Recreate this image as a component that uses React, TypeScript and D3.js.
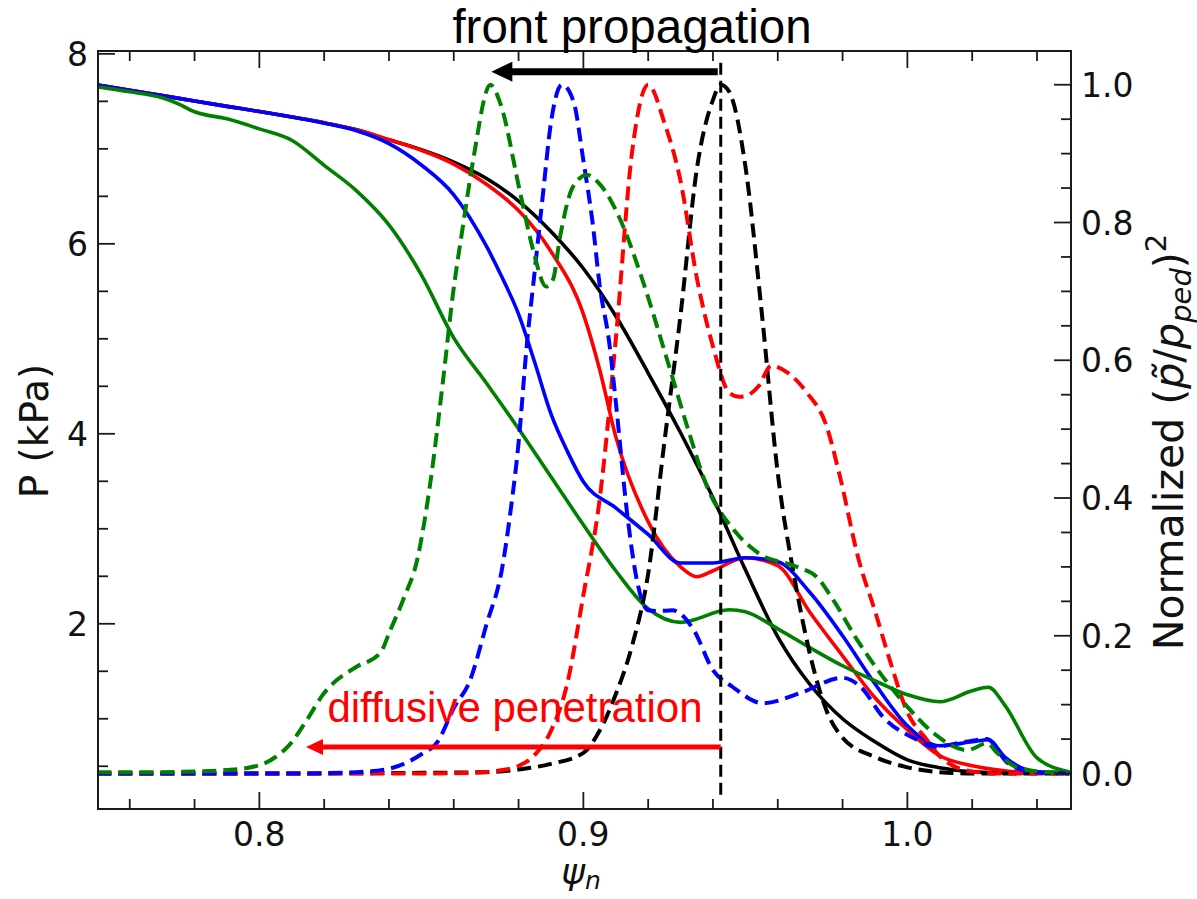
import React from "react";
import * as d3 from "d3";

const W = 1197;
const H = 899;
const PLOT = { left: 98, right: 1071, top: 51, bottom: 809 };

const X_DOMAIN = [0.7502, 1.0505];
const P_DOMAIN = [0.05, 8.03];
const N_DOMAIN = [-0.0515, 1.049];

const X_TICKS = [0.8, 0.9, 1.0];
const X_TICK_LABELS = ["0.8", "0.9", "1.0"];
const P_TICKS = [2, 4, 6, 8];
const P_TICK_LABELS = ["2", "4", "6", "8"];
const N_TICKS = [0, 0.2, 0.4, 0.6, 0.8, 1.0];
const N_TICK_LABELS = ["0.0", "0.2", "0.4", "0.6", "0.8", "1.0"];

// Solid curves: pressure P (kPa) vs psi_n (left axis)
const BLACK_PSI = [0.75, 0.76, 0.77, 0.78, 0.79, 0.8, 0.81, 0.82, 0.83, 0.84, 0.85, 0.86, 0.87, 0.88, 0.89, 0.9, 0.91, 0.92, 0.93, 0.94, 0.95, 0.96, 0.97, 0.98, 0.99, 1.0, 1.01, 1.02, 1.03, 1.04, 1.05];
const BLACK_P = [7.672, 7.617, 7.561, 7.503, 7.447, 7.393, 7.335, 7.274, 7.2, 7.095, 6.99, 6.86, 6.69, 6.45, 6.13, 5.74, 5.24, 4.64, 4.011, 3.326, 2.568, 1.863, 1.358, 1.0, 0.758, 0.568, 0.484, 0.442, 0.432, 0.432, 0.432];

const RED_PSI = [0.75, 0.76, 0.77, 0.78, 0.79, 0.8, 0.81, 0.82, 0.83, 0.84, 0.85, 0.86, 0.87, 0.88, 0.89, 0.9, 0.905, 0.91, 0.92, 0.93, 0.935, 0.94, 0.95, 0.96, 0.97, 0.98, 0.99, 1.0, 1.01, 1.02, 1.03, 1.04, 1.05];
const RED_P = [7.672, 7.617, 7.561, 7.503, 7.447, 7.393, 7.335, 7.274, 7.2, 7.095, 6.985, 6.84, 6.63, 6.35, 5.92, 5.26, 4.68, 3.97, 3.074, 2.6, 2.495, 2.558, 2.695, 2.611, 2.116, 1.663, 1.221, 0.884, 0.611, 0.505, 0.453, 0.432, 0.432];

const BLUE_PSI = [0.75, 0.76, 0.77, 0.78, 0.79, 0.8, 0.81, 0.82, 0.83, 0.84, 0.85, 0.86, 0.87, 0.875, 0.88, 0.885, 0.89, 0.895, 0.9, 0.91, 0.92, 0.93, 0.94, 0.95, 0.96, 0.97, 0.98, 0.99, 1.0, 1.01, 1.02, 1.025, 1.03, 1.04, 1.05];
const BLUE_P = [7.672, 7.617, 7.561, 7.503, 7.447, 7.393, 7.335, 7.27, 7.19, 7.055, 6.83, 6.516, 5.98, 5.64, 5.26, 4.75, 4.21, 3.82, 3.495, 3.22, 2.94, 2.64, 2.64, 2.695, 2.653, 2.326, 1.874, 1.368, 0.926, 0.716, 0.758, 0.779, 0.6, 0.442, 0.432];

const GREEN_PSI = [0.75, 0.76, 0.77, 0.775, 0.78, 0.79, 0.8, 0.81, 0.82, 0.83, 0.84, 0.85, 0.86, 0.87, 0.88, 0.89, 0.9, 0.91, 0.92, 0.93, 0.945, 0.95, 0.96, 0.97, 0.98, 0.99, 1.0, 1.01, 1.02, 1.025, 1.03, 1.04, 1.05];
const GREEN_P = [7.653, 7.6, 7.537, 7.474, 7.39, 7.316, 7.21, 7.09, 6.826, 6.558, 6.2, 5.674, 5.01, 4.537, 4.053, 3.547, 3.042, 2.558, 2.158, 2.015, 2.147, 2.126, 1.947, 1.747, 1.558, 1.4, 1.253, 1.179, 1.295, 1.332, 1.147, 0.589, 0.442];

// Dashed curves: normalized (p~/p_ped)^2 vs psi_n (right axis)
const BLACK_D_PSI = [0.75, 0.8, 0.85, 0.87, 0.88, 0.89, 0.9, 0.905, 0.91, 0.915, 0.92, 0.925, 0.93, 0.935, 0.94, 0.9424, 0.945, 0.95, 0.955, 0.96, 0.965, 0.97, 0.975, 0.98, 0.99, 1.0, 1.01, 1.02, 1.05];
const BLACK_D_N = [0, 0, 0.001, 0.002, 0.006, 0.014, 0.03, 0.062, 0.115, 0.185, 0.29, 0.481, 0.666, 0.877, 0.978, 1.0, 0.99, 0.882, 0.672, 0.436, 0.288, 0.172, 0.092, 0.052, 0.024, 0.009, 0.002, 0, 0];

const RED_D_PSI = [0.75, 0.85, 0.865, 0.875, 0.88, 0.885, 0.89, 0.895, 0.9, 0.905, 0.91, 0.915, 0.92, 0.925, 0.93, 0.935, 0.94, 0.945, 0.948, 0.95, 0.954, 0.958, 0.963, 0.969, 0.975, 0.979, 0.985, 0.99, 0.995, 1.0, 1.006, 1.01, 1.02, 1.03, 1.05];
const RED_D_N = [0, 0, 0.001, 0.005, 0.011, 0.027, 0.062, 0.13, 0.259, 0.397, 0.63, 0.901, 1.0, 0.945, 0.86, 0.72, 0.62, 0.553, 0.547, 0.548, 0.562, 0.592, 0.582, 0.553, 0.505, 0.435, 0.31, 0.236, 0.158, 0.089, 0.049, 0.025, 0.003, 0, 0];

const BLUE_D_PSI = [0.75, 0.81, 0.83, 0.84, 0.85, 0.855, 0.86, 0.865, 0.87, 0.875, 0.8775, 0.88, 0.8825, 0.885, 0.8875, 0.89, 0.8934, 0.897, 0.9, 0.903, 0.905, 0.908, 0.91, 0.9135, 0.9165, 0.92, 0.9235, 0.9275, 0.934, 0.94, 0.946, 0.9555, 0.967, 0.98, 0.9855, 0.9925, 1.003, 1.008, 1.018, 1.0245, 1.031, 1.039, 1.05];
const BLUE_D_N = [0, 0, 0.002, 0.007, 0.028, 0.046, 0.095, 0.135, 0.215, 0.3, 0.38, 0.48, 0.62, 0.73, 0.84, 0.945, 1.0, 0.975, 0.89, 0.794, 0.71, 0.625, 0.54, 0.378, 0.281, 0.237, 0.236, 0.237, 0.209, 0.15, 0.126, 0.102, 0.117, 0.139, 0.126, 0.082, 0.049, 0.039, 0.046, 0.05, 0.015, 0.002, 0];

const GREEN_D_PSI = [0.75, 0.77, 0.78, 0.79, 0.8, 0.805, 0.809, 0.8147, 0.82, 0.824, 0.83, 0.8373, 0.8404, 0.8447, 0.8487, 0.8527, 0.8567, 0.8598, 0.863, 0.866, 0.8713, 0.8743, 0.8805, 0.8845, 0.8885, 0.8906, 0.8928, 0.8968, 0.9011, 0.9052, 0.9114, 0.918, 0.9259, 0.9321, 0.9382, 0.9462, 0.954, 0.9659, 0.9721, 0.9771, 0.9845, 0.9925, 1.0, 1.008, 1.0185, 1.0246, 1.0277, 1.0339, 1.044, 1.05];
const GREEN_D_N = [0.002, 0.002, 0.003, 0.005, 0.012, 0.024, 0.04, 0.078, 0.117, 0.136, 0.155, 0.175, 0.208, 0.256, 0.31, 0.42, 0.571, 0.698, 0.8, 0.891, 1.0, 0.974, 0.843, 0.76, 0.707, 0.717, 0.779, 0.852, 0.869, 0.855, 0.804, 0.72, 0.6, 0.503, 0.416, 0.355, 0.32, 0.3, 0.285, 0.252, 0.194, 0.14, 0.097, 0.059, 0.034, 0.044, 0.03, 0.009, 0.002, 0.002];

// Annotations (data units)
const FRONT_PSI = 0.9424;
const FRONT_ARROW_TIP = 0.8716;
const FRONT_ARROW_N = 1.019;
const DIFF_ARROW_TIP = 0.8144;
const DIFF_ARROW_N = 0.0385;
const VLINE_N = [-0.038, 1.032];

const BLACK = "#000000";
const RED = "#ff0000";
const BLUE = "#0000ff";
const GREEN = "#008000";
const AXIS = "#1a1a1a";

const zip = (xs: number[], ys: number[]) => xs.map((x, i) => [x, ys[i]] as [number, number]);

export default function App() {
  const x = d3.scaleLinear().domain(X_DOMAIN).range([PLOT.left, PLOT.right]);
  const yP = d3.scaleLinear().domain(P_DOMAIN).range([PLOT.bottom, PLOT.top]);
  const yN = d3.scaleLinear().domain(N_DOMAIN).range([PLOT.bottom, PLOT.top]);

  const lineP = d3.line<[number, number]>().x((d) => x(d[0])).y((d) => yP(d[1])).curve(d3.curveMonotoneX);
  const lineN = d3.line<[number, number]>().x((d) => x(d[0])).y((d) => yN(d[1])).curve(d3.curveMonotoneX);

  const solids = [
    { c: BLACK, d: zip(BLACK_PSI, BLACK_P) },
    { c: RED, d: zip(RED_PSI, RED_P) },
    { c: BLUE, d: zip(BLUE_PSI, BLUE_P) },
    { c: GREEN, d: zip(GREEN_PSI, GREEN_P) },
  ];
  const dashed = [
    { c: BLACK, d: zip(BLACK_D_PSI, BLACK_D_N) },
    { c: RED, d: zip(RED_D_PSI, RED_D_N) },
    { c: BLUE, d: zip(BLUE_D_PSI, BLUE_D_N) },
    { c: GREEN, d: zip(GREEN_D_PSI, GREEN_D_N) },
  ];

  const xMinor = d3.range(0.76, 1.045, 0.02).filter((v) => !X_TICKS.some((t) => Math.abs(t - v) < 1e-6));
  const pMinor = d3.range(0.5, 8.01, 0.5).filter((v) => !P_TICKS.some((t) => Math.abs(t - v) < 1e-6));
  const nMinor = d3.range(0, 1.001, 0.05).filter((v) => !N_TICKS.some((t) => Math.abs(t - v) < 1e-6));

  const MAJ = 17;
  const MIN = 10;
  const tickW = 1.8;
  const tickFont = "'DejaVu Sans', sans-serif";
  const fs = 33;

  const fx = x(FRONT_PSI);
  const fTip = x(FRONT_ARROW_TIP);
  const fy = yN(FRONT_ARROW_N);
  const dTip = x(DIFF_ARROW_TIP);
  const dy = yN(DIFF_ARROW_N);

  return (
    <svg
      width={W}
      height={H}
      viewBox={`0 0 ${W} ${H}`}
      style={{ position: "absolute", left: 0, top: 0, background: "#fff" }}
    >
      <defs>
        <clipPath id="plotclip">
          <rect x={PLOT.left} y={PLOT.top} width={PLOT.right - PLOT.left} height={PLOT.bottom - PLOT.top} />
        </clipPath>
      </defs>
      <rect x={0} y={0} width={W} height={H} fill="#fff" />

      <g clipPath="url(#plotclip)" fill="none" strokeLinejoin="round">
        {solids.map((s, i) => (
          <path key={"s" + i} d={lineP(s.d) || ""} stroke={s.c} strokeWidth={3.6} />
        ))}
        {dashed.map((s, i) => (
          <path key={"d" + i} d={lineN(s.d) || ""} stroke={s.c} strokeWidth={4} strokeDasharray="14 7" />
        ))}
      </g>

      {/* vertical dashed marker */}
      <line x1={fx} x2={fx} y1={yN(VLINE_N[1])} y2={yN(VLINE_N[0])} stroke={BLACK} strokeWidth={3} strokeDasharray="12 6" />

      {/* front propagation arrow */}
      <line x1={fx - 3} x2={fTip + 18} y1={fy} y2={fy} stroke={BLACK} strokeWidth={7} />
      <path d={`M${fTip},${fy} L${fTip + 21},${fy - 10} L${fTip + 21},${fy + 10} Z`} fill={BLACK} />

      {/* diffusive penetration arrow */}
      <line x1={fx} x2={dTip + 14} y1={dy} y2={dy} stroke={RED} strokeWidth={5} />
      <path d={`M${dTip},${dy} L${dTip + 17},${dy - 8} L${dTip + 17},${dy + 8} Z`} fill={RED} />

      {/* frame */}
      <rect x={PLOT.left} y={PLOT.top} width={PLOT.right - PLOT.left} height={PLOT.bottom - PLOT.top} fill="none" stroke={AXIS} strokeWidth={2} />

      {/* ticks */}
      <g stroke={AXIS} strokeWidth={tickW}>
        {X_TICKS.map((t) => (
          <g key={"xt" + t}>
            <line x1={x(t)} x2={x(t)} y1={PLOT.bottom} y2={PLOT.bottom - MAJ} />
            <line x1={x(t)} x2={x(t)} y1={PLOT.top} y2={PLOT.top + MAJ} />
          </g>
        ))}
        {xMinor.map((t) => (
          <g key={"xm" + t}>
            <line x1={x(t)} x2={x(t)} y1={PLOT.bottom} y2={PLOT.bottom - MIN} />
            <line x1={x(t)} x2={x(t)} y1={PLOT.top} y2={PLOT.top + MIN} />
          </g>
        ))}
        {P_TICKS.map((t) => (
          <line key={"pt" + t} x1={PLOT.left} x2={PLOT.left + MAJ} y1={yP(t)} y2={yP(t)} />
        ))}
        {pMinor.map((t) => (
          <line key={"pm" + t} x1={PLOT.left} x2={PLOT.left + MIN} y1={yP(t)} y2={yP(t)} />
        ))}
        {N_TICKS.map((t) => (
          <line key={"nt" + t} x1={PLOT.right} x2={PLOT.right - MAJ} y1={yN(t)} y2={yN(t)} />
        ))}
        {nMinor.map((t) => (
          <line key={"nm" + t} x1={PLOT.right} x2={PLOT.right - MIN} y1={yN(t)} y2={yN(t)} />
        ))}
      </g>

      {/* tick labels */}
      <g fontFamily={tickFont} fontSize={fs} fill="#111">
        {X_TICKS.map((t, i) => (
          <text key={"xl" + t} x={x(t)} y={846} textAnchor="middle">
            {X_TICK_LABELS[i]}
          </text>
        ))}
        {P_TICKS.map((t, i) => (
          <text key={"pl" + t} x={88} y={yP(t) + 12} textAnchor="end">
            {P_TICK_LABELS[i]}
          </text>
        ))}
        {N_TICKS.map((t, i) => (
          <text key={"nl" + t} x={1081} y={yN(t) + 12} textAnchor="start">
            {N_TICK_LABELS[i]}
          </text>
        ))}
      </g>

      {/* axis labels */}
      <text
        transform={`translate(48,431) rotate(-90)`}
        textAnchor="middle"
        fontFamily={tickFont}
        fontSize={39}
        fill="#111"
      >
        P (kPa)
      </text>
      <text
        transform={`translate(1183,442) rotate(-90)`}
        textAnchor="middle"
        fontFamily={tickFont}
        fontSize={41}
        fill="#111"
      >
        <tspan>Normalized (</tspan>
        <tspan fontStyle="italic">{"p\u0303"}</tspan>
        <tspan>/</tspan>
        <tspan fontStyle="italic">p</tspan>
        <tspan fontStyle="italic" fontSize={29} dy={8}>ped</tspan>
        <tspan dy={-8}>)</tspan>
        <tspan fontSize={29} dy={-17}>2</tspan>
      </text>
      <text x={581} y={884} textAnchor="middle" fontFamily={tickFont} fontSize={36} fill="#111">
        <tspan fontStyle="italic">ψ</tspan>
        <tspan fontStyle="italic" fontSize={25} dy={5}>n</tspan>
      </text>

      {/* annotations */}
      <text x={632} y={43} textAnchor="middle" fontFamily="'Liberation Sans', Arial, sans-serif" fontSize={47.5} fill="#000">
        front propagation
      </text>
      <text x={515} y={722} textAnchor="middle" fontFamily="'Liberation Sans', Arial, sans-serif" fontSize={42} fill={RED}>
        diffusive penetration
      </text>
    </svg>
  );
}
